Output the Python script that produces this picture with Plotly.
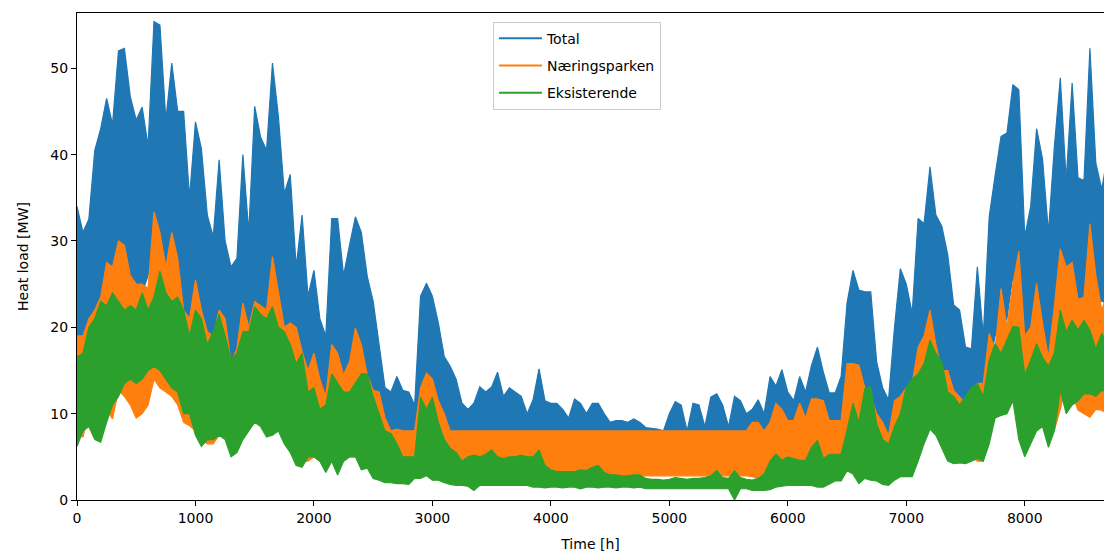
import numpy as np
import plotly.graph_objects as go

# Hour at the start of each 50-hour bin
HOURS = list(range(0, 8701, 50))

# Per-bin envelope of each series [MW]
TOTAL_HI = [34, 31, 32.5, 40.5, 43, 46.5, 43.5, 52, 52.3, 46.7,
            44, 45.5, 41, 55.4, 55, 44, 50.6, 45, 45, 35,
            43.8, 40.7, 33, 30.5, 39.4, 30, 27, 28, 40, 31,
            45.6, 42, 40.5, 50.6, 44.4, 35.5, 37.7, 27, 33, 23.6,
            26.6, 21, 19, 32.6, 32.6, 26, 29.5, 32.8, 31, 25.9,
            23, 18, 13, 12.5, 14.3, 12.7, 12.5, 11, 23.6, 25.1,
            23.6, 20.5, 16.6, 15.5, 14, 11.2, 10.5, 11.2, 13.1, 12.5,
            13.1, 14.8, 12, 13, 12.5, 12, 10, 11.6, 15.2, 11.5,
            11.2, 11.2, 10.5, 9.5, 11.7, 11.2, 10, 11.2, 11.2, 10,
            9.0, 9.2, 9.2, 9.0, 9.4, 9.0, 8.4, 8.3, 8.2, 8.0,
            10, 11.4, 11, 8.0, 11.2, 11.0, 8.5, 11.9, 12.3, 11,
            8.5, 12, 11.5, 10, 10.5, 11.6, 10, 14.3, 13.2, 15.1,
            12.5, 11.5, 14.3, 12.5, 15.6, 17.7, 14.8, 12.4, 12.4, 14.3,
            22.8, 26.6, 24.3, 24.1, 24.1, 16, 13, 11.6, 19.9, 26.8,
            25, 21.6, 32.6, 32, 38.6, 33, 31.7, 28.4, 22.6, 22,
            17.7, 17.5, 27, 19, 32.8, 37.6, 42.1, 42.5, 48.1, 47.5,
            30.5, 34, 43, 39.5, 31, 40.9, 48.9, 37, 48.3, 37.3,
            37, 52.3, 39, 36, 40]
TOTAL_LO = [14, 15.3, 18.5, 17, 17.2, 19.5, 20.4, 24.7, 25.5, 25,
            23, 24, 26, 29.5, 28, 26.5, 25, 23.5, 19, 18.6,
            15.5, 13.2, 13.5, 13.5, 15, 15, 12.5, 13.5, 15.5, 17,
            18.2, 18, 16.3, 16, 16.5, 14.5, 12, 9, 8.3, 9.5,
            10, 9, 6.7, 9, 7.4, 9, 10, 10, 8, 7.7,
            6, 5.8, 5.5, 5, 4.9, 4.9, 4.6, 5.3, 5.5, 5.8,
            5.3, 5.3, 5, 4.6, 4.5, 4.5, 4.4, 3.9, 4.5, 4.5,
            4.5, 4.5, 4.5, 4.5, 4.5, 4.5, 4.5, 4.3, 4.3, 4.2,
            4.3, 4.3, 4.3, 4.3, 4.3, 4.3, 4.3, 4.3, 4.3, 4.3,
            4.3, 4.3, 4.3, 4.3, 4.3, 4.3, 4.1, 4.1, 4.1, 4.1,
            4.1, 4.1, 4.1, 4.1, 4.1, 4.1, 4.1, 4.1, 4.1, 4.1,
            4.1, 2.8, 4.1, 4.1, 3.8, 3.6, 3.6, 3.9, 4.2, 4.3,
            4.4, 4.4, 4.4, 4.4, 4.4, 4.2, 4.2, 4.5, 4.9, 4.9,
            6.9, 7, 6.4, 6.5, 6.3, 5.7, 4.6, 4.5, 5.1, 5.7,
            6.2, 7.2, 9.5, 13.3, 16.7, 15.5, 12.5, 9.5, 8.7, 8.8,
            9.2, 9.5, 9.3, 9, 15.5, 19, 19.8, 21, 26, 20,
            15, 16, 18, 18.5, 16.6, 16.1, 23.2, 23.5, 23.3, 21.9,
            22.3, 21.9, 22.5, 23.1, 22.5]
NAER_HI = [19, 19, 21, 22, 23.5, 27.5, 27, 30, 29.5, 26,
           25, 25, 24.5, 33.4, 31, 27, 31, 28, 22, 21,
           25.5, 22, 19.5, 19, 22, 21, 16, 17.5, 22.8, 20,
           23, 22.5, 22, 28.2, 24, 20, 20.5, 20, 17.2, 15,
           17, 14, 12, 18, 17, 14.5, 16, 19.9, 18, 14.5,
           12.7, 12.5, 9.5, 8.0, 8.2, 8.0, 8.0, 8.0, 13, 14.7,
           14, 11.5, 10, 8.0, 8.0, 8.0, 8.0, 8.0, 8.0, 8.0,
           8.0, 8.0, 8.0, 8.0, 8.0, 8.0, 8.0, 8.0, 8.0, 8.0,
           8.0, 8.0, 8.0, 8.0, 8.0, 8.0, 8.0, 8.0, 8.0, 8.0,
           8.0, 8.0, 8.0, 8.0, 8.0, 8.0, 8.0, 8.0, 8.0, 8.0,
           8.0, 8.0, 8.0, 8.0, 8.0, 8.0, 8.0, 8.0, 8.0, 8.0,
           8.0, 8.0, 8.0, 8.0, 9, 9, 8, 9, 11.2, 10.5,
           9.2, 9.2, 11.2, 9.5, 11.7, 11.7, 11.5, 9.2, 9.2, 9.2,
           15.8, 15.8, 15.6, 13, 12, 10, 9, 7.5, 11.5, 12,
           13, 13.5, 17.7, 19, 22, 18, 15, 15, 12.7, 12,
           11.2, 11.5, 13.5, 13.5, 19.3, 17.5, 24.5, 20, 25, 28.8,
           19, 20, 25.1, 20.5, 16.5, 22.5, 29.1, 27, 27.5, 23.2,
           23.5, 32, 26, 22, 24]
NAER_LO = [7.7, 7.3, 10, 10, 10.5, 10.5, 9.4, 12.7, 12, 11,
           9.5, 10, 11, 14, 13, 12.5, 12, 11, 9, 8.6,
           8, 7, 6.5, 6.5, 7.5, 8, 7.5, 8, 8.5, 9,
           9.2, 9.5, 9, 8.5, 8.5, 8, 6.5, 5, 4.5, 4.5,
           5, 4.5, 3.5, 4.5, 4.5, 4.5, 5, 5, 4.5, 4,
           3.5, 3.5, 3.5, 3, 3, 3, 2.8, 2.8, 3, 3,
           3, 3, 3, 2.8, 2.8, 2.8, 2.8, 2.8, 2.8, 2.8,
           2.8, 2.8, 2.8, 2.8, 2.8, 2.8, 2.8, 2.8, 2.8, 2.8,
           2.8, 2.8, 2.8, 2.8, 2.8, 2.8, 2.8, 2.8, 2.8, 2.8,
           2.8, 2.8, 2.8, 2.8, 2.8, 2.8, 2.8, 2.8, 2.8, 2.8,
           2.8, 2.8, 2.8, 2.8, 2.8, 2.8, 2.8, 2.8, 2.8, 2.8,
           2.8, 2.8, 2.8, 2.8, 2.7, 2.5, 2.5, 2.5, 2.6, 2.6,
           2.7, 2.7, 2.7, 2.7, 2.7, 2.7, 2.7, 2.7, 2.7, 2.7,
           3.5, 4, 4.5, 4, 4, 3.5, 2.8, 2.8, 2.8, 3,
           3.5, 4.5, 5, 6.8, 8.5, 8, 6.5, 5, 4.5, 4.5,
           5, 5, 4.5, 4.5, 9, 9.5, 10, 11, 14.5, 13,
           10, 9.5, 10, 10, 10.5, 8.1, 10.5, 13.5, 12.3, 10.4,
           10, 9.6, 10.5, 10.4, 10]
EKS_HI = [16.6, 17, 20, 21, 23, 22.5, 24, 23, 22, 22.5,
          22, 24, 22, 23.5, 26.5, 24, 23, 23.5, 22, 19,
          22, 21, 18, 19.5, 21.5, 19, 16.3, 17, 19.5, 19.5,
          22.4, 21.5, 21, 22.4, 20, 19.5, 18, 15.8, 17, 12.5,
          13, 10.5, 11, 14.6, 13.5, 12.5, 12.5, 13.5, 14.6, 14.6,
          12, 10, 8, 7.7, 6.5, 5, 5, 5, 11.9, 10.5,
          11.9, 9, 7, 6, 5.5, 4.5, 5, 5.2, 5, 5.3,
          5.8, 5, 4.8, 5, 5, 5.2, 5, 5, 5.8, 4,
          3.5, 3.3, 3.3, 3.3, 3.3, 3.5, 3.4, 3.8, 4, 3.2,
          2.9, 2.9, 2.8, 2.8, 2.9, 2.9, 2.5, 2.4, 2.4, 2.3,
          2.4, 2.6, 2.5, 2.4, 2.5, 2.5, 2.6, 2.8, 3.4, 2.6,
          2.5, 3.4, 2.6, 2.4, 2.3, 2.5, 3, 4.5, 5.3, 4.6,
          5, 4.8, 4.6, 4.6, 6.1, 6.9, 4.8, 5.3, 5.3, 5.3,
          8.1, 11.2, 9, 12.9, 13.1, 8.8, 7, 6.5, 8.5, 10,
          13.1, 14, 14.6, 15.8, 18.5, 17, 16, 12.5, 12, 11,
          12, 13, 13.5, 12, 16.2, 18.1, 17, 18.5, 20.1, 20,
          14.5, 16.2, 18.1, 16.5, 15.5, 17, 22, 19.5, 20.8, 19.7,
          20.8, 19.7, 17.5, 19.3, 18]
EKS_LO = [6.2, 8, 8.5, 7, 6.7, 9, 11, 12, 13.5, 14,
          13.5, 14, 15, 15.5, 15, 14, 13, 12.5, 10, 10,
          7.5, 6.2, 7, 7, 7.5, 7, 5, 5.5, 7, 8,
          9, 8.5, 7.3, 7.5, 8, 6.5, 5.5, 4, 3.8, 5,
          5, 4.5, 3.2, 4.5, 2.9, 4.5, 5, 5, 3.5, 3.7,
          2.5, 2.3, 2, 2, 1.9, 1.9, 1.8, 2.5, 2.5, 2.8,
          2.3, 2.3, 2.0, 1.8, 1.7, 1.7, 1.6, 1.1, 1.7, 1.7,
          1.7, 1.7, 1.7, 1.7, 1.7, 1.7, 1.7, 1.5, 1.5, 1.4,
          1.5, 1.5, 1.4, 1.5, 1.5, 1.3, 1.5, 1.5, 1.4, 1.5,
          1.5, 1.4, 1.5, 1.5, 1.4, 1.5, 1.3, 1.3, 1.3, 1.3,
          1.3, 1.3, 1.3, 1.3, 1.3, 1.3, 1.3, 1.3, 1.3, 1.3,
          1.3, 0, 1.3, 1.3, 1.1, 1.1, 1.1, 1.2, 1.5, 1.6,
          1.7, 1.7, 1.7, 1.7, 1.7, 1.5, 1.5, 1.8, 2.2, 2.2,
          3.4, 3, 1.9, 2.5, 2.3, 2.2, 1.8, 1.7, 2.3, 2.7,
          2.7, 2.7, 4.5, 6.5, 8.2, 7.5, 6, 4.5, 4.2, 4.3,
          4.2, 4.5, 4.8, 4.5, 6.5, 9.5, 9.8, 10, 11.5, 7,
          5, 6.5, 8, 8.5, 6.1, 8, 12.7, 10, 11, 11.5,
          12.3, 12.3, 12, 12.7, 12.5]

SERIES = [
    ("Total", TOTAL_LO, TOTAL_HI, "#1f77b4"),
    ("Næringsparken", NAER_LO, NAER_HI, "#ff7f0e"),
    ("Eksisterende", EKS_LO, EKS_HI, "#2ca02c"),
]

fig = go.Figure()
hrs = np.array(HOURS, dtype=float)
# dense hourly line drawn as the band it fills: max envelope, then min envelope back
for name, lo, hi, color in SERIES:
    px = np.concatenate([hrs, hrs[::-1]])
    py = np.concatenate([np.array(hi, float), np.array(lo, float)[::-1]])
    fig.add_trace(go.Scatter(
        x=px, y=py, mode="lines", fill="toself", fillcolor=color,
        line=dict(color=color, width=1.2), showlegend=False,
        hoverinfo="skip", legendgroup=name))
# legend entries (line samples)
for name, lo, hi, color in SERIES:
    fig.add_trace(go.Scatter(
        x=[None], y=[None], mode="lines", name=name,
        line=dict(color=color, width=2), legendgroup=name))

font = dict(family="DejaVu Sans, sans-serif", size=14, color="black")
fig.update_layout(
    width=1104, height=556,
    margin=dict(l=77, r=0, t=13, b=56),
    paper_bgcolor="white", plot_bgcolor="white",
    font=font,
    showlegend=True,
    legend=dict(x=0.405, y=0.982, xanchor="left", yanchor="top",
                bgcolor="rgba(255,255,255,0.85)", bordercolor="#cccccc",
                borderwidth=1, font=font, tracegroupgap=6, itemwidth=43),
)
fig.update_xaxes(
    range=[0, 8669], showgrid=False, zeroline=False,
    showline=True, linecolor="black", linewidth=1, mirror=True,
    ticks="outside", ticklen=5, tickcolor="black",
    tickvals=[0, 1000, 2000, 3000, 4000, 5000, 6000, 7000, 8000],
    title=dict(text="Time [h]", font=font, standoff=14),
)
fig.update_yaxes(
    range=[0, 56.4], showgrid=False, zeroline=False,
    showline=True, linecolor="black", linewidth=1, mirror=False,
    ticks="outside", ticklen=5, tickcolor="black",
    tickvals=[0, 10, 20, 30, 40, 50],
    title=dict(text="Heat load [MW]", font=font, standoff=18),
)

fig.write_html("out.html")
